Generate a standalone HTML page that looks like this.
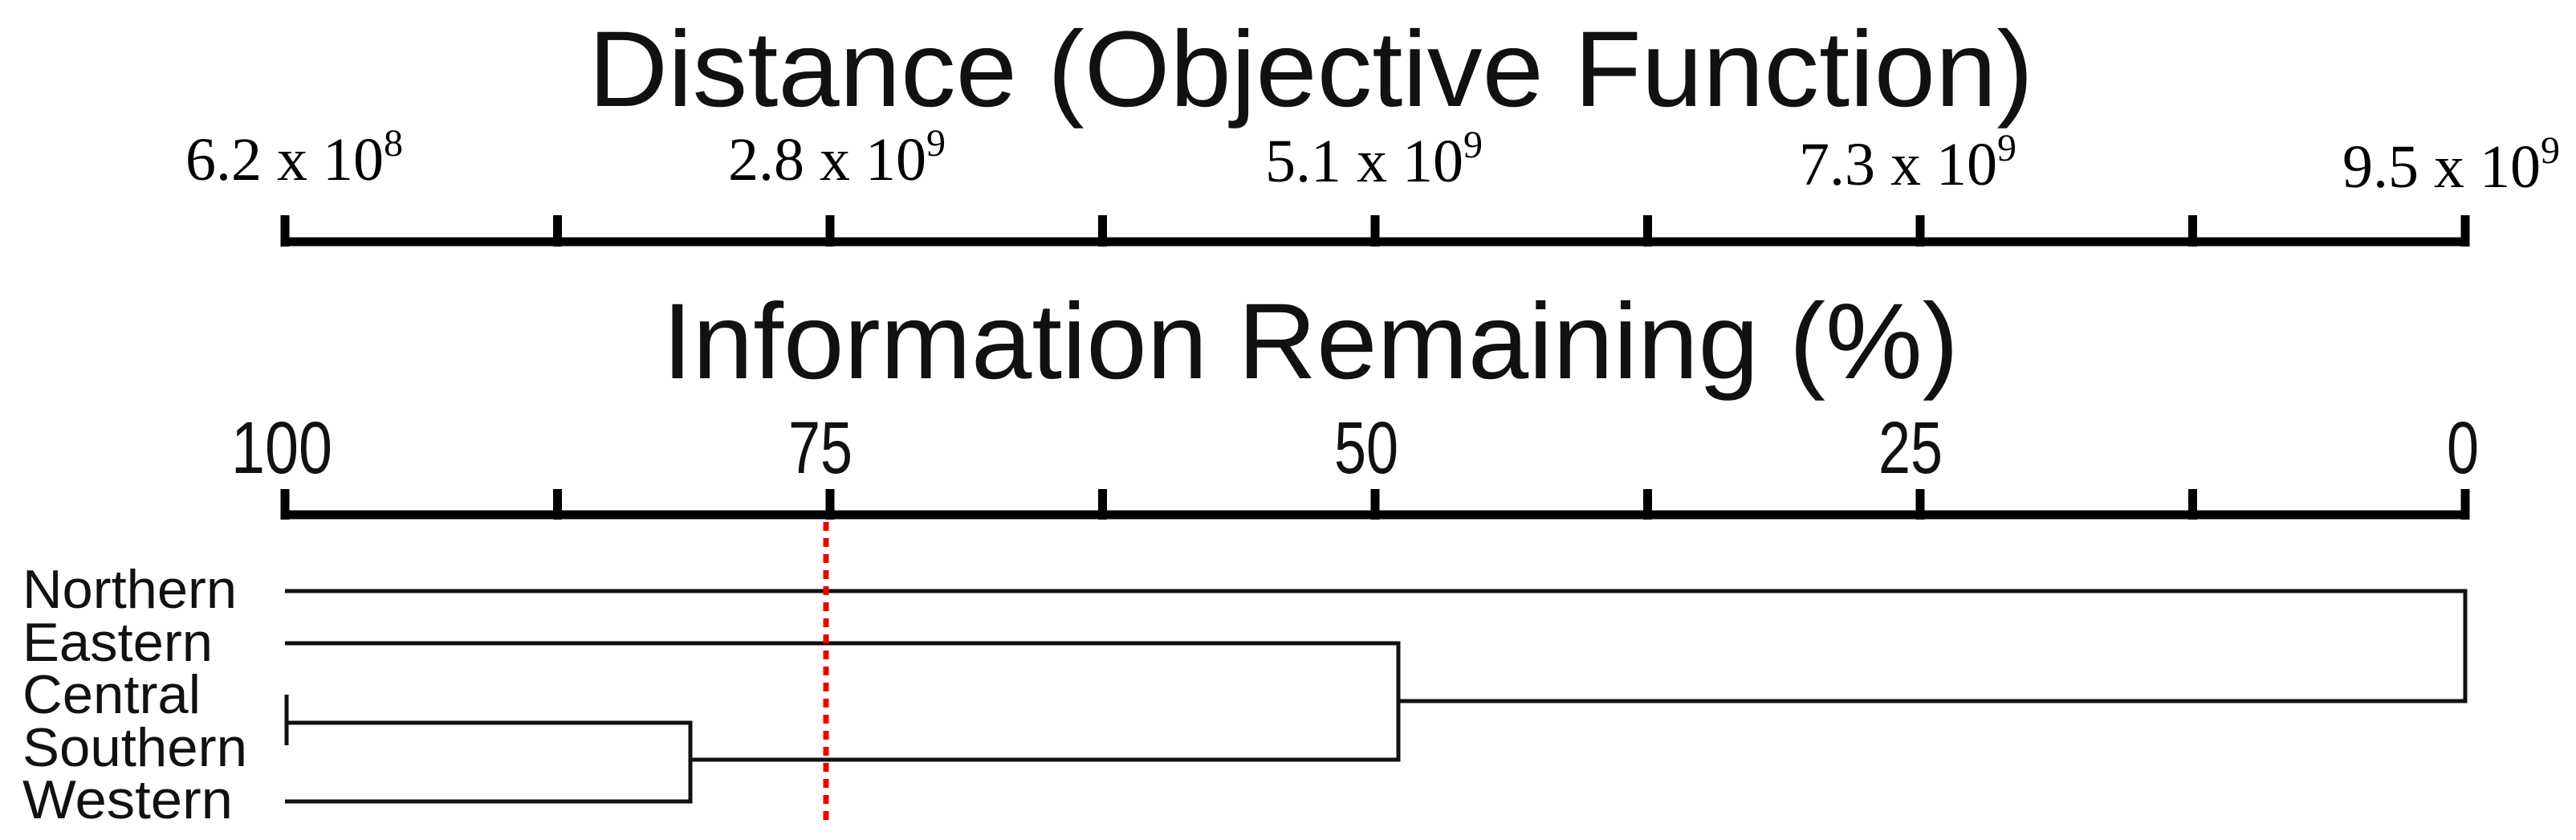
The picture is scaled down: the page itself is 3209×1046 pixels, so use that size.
<!DOCTYPE html>
<html><head><meta charset="utf-8"><style>html,body{margin:0;padding:0;background:#fff}svg{display:block}</style></head>
<body>
<svg width="3209" height="1046" viewBox="0 0 3209 1046" xmlns="http://www.w3.org/2000/svg">
<g font-family="Liberation Sans, Arial, sans-serif" fill="#111">
<text x="733" y="132" font-size="134" textLength="1800" lengthAdjust="spacingAndGlyphs">Distance (Objective Function)</text>
<text x="825" y="471" font-size="134" textLength="1615" lengthAdjust="spacingAndGlyphs">Information Remaining (%)</text>
<g font-size="92">
<text x="288" y="589" textLength="126" lengthAdjust="spacingAndGlyphs">100</text>
<text x="982" y="589" textLength="80" lengthAdjust="spacingAndGlyphs">75</text>
<text x="1662" y="589" textLength="80" lengthAdjust="spacingAndGlyphs">50</text>
<text x="2340" y="589" textLength="80" lengthAdjust="spacingAndGlyphs">25</text>
<text x="3048" y="589" textLength="40" lengthAdjust="spacingAndGlyphs">0</text>
</g>
<g font-size="68">
<text x="28" y="757" textLength="267" lengthAdjust="spacingAndGlyphs">Northern</text>
<text x="28" y="823" textLength="237" lengthAdjust="spacingAndGlyphs">Eastern</text>
<text x="28" y="888" textLength="222" lengthAdjust="spacingAndGlyphs">Central</text>
<text x="28" y="954" textLength="280" lengthAdjust="spacingAndGlyphs">Southern</text>
<text x="28" y="1019" textLength="262" lengthAdjust="spacingAndGlyphs">Western</text>
</g>
</g>
<g font-family="Liberation Serif, Times New Roman, serif" font-size="76" fill="#000">
<text x="231" y="224">6.2 x 10<tspan font-size="48" dy="-30">8</tspan></text>
<text x="907" y="224">2.8 x 10<tspan font-size="48" dy="-30">9</tspan></text>
<text x="1576" y="226">5.1 x 10<tspan font-size="48" dy="-30">9</tspan></text>
<text x="2241" y="230">7.3 x 10<tspan font-size="48" dy="-30">9</tspan></text>
<text x="2918" y="233">9.5 x 10<tspan font-size="48" dy="-30">9</tspan></text>
</g>
<g stroke="#000" stroke-width="11" fill="none" stroke-linecap="butt">
<path d="M355 301 H3071"/>
<path d="M355 268 V307 M694.5 268 V307 M1034 268 V307 M1373.5 268 V307 M1713 268 V307 M2052.5 268 V307 M2392 268 V307 M2731.5 268 V307 M3071 268 V307"/>
<path d="M355 641 H3071"/>
<path d="M355 609 V647 M694.5 609 V647 M1034 609 V647 M1373.5 609 V647 M1713 609 V647 M2052.5 609 V647 M2392 609 V647 M2731.5 609 V647 M3071 609 V647"/>
</g>
<g stroke="#111" stroke-width="5" fill="none">
<path d="M355 736 H3071 V873 H1742"/>
<path d="M355 801 H1742 V946 H860"/>
<path d="M355 900 H860 V998 H355"/>
<path d="M357 865 V928"/>
</g>
<path d="M1029 650 V1030" stroke="#e00" stroke-width="7" stroke-dasharray="11 9" fill="none"/>
</svg>
</body></html>
